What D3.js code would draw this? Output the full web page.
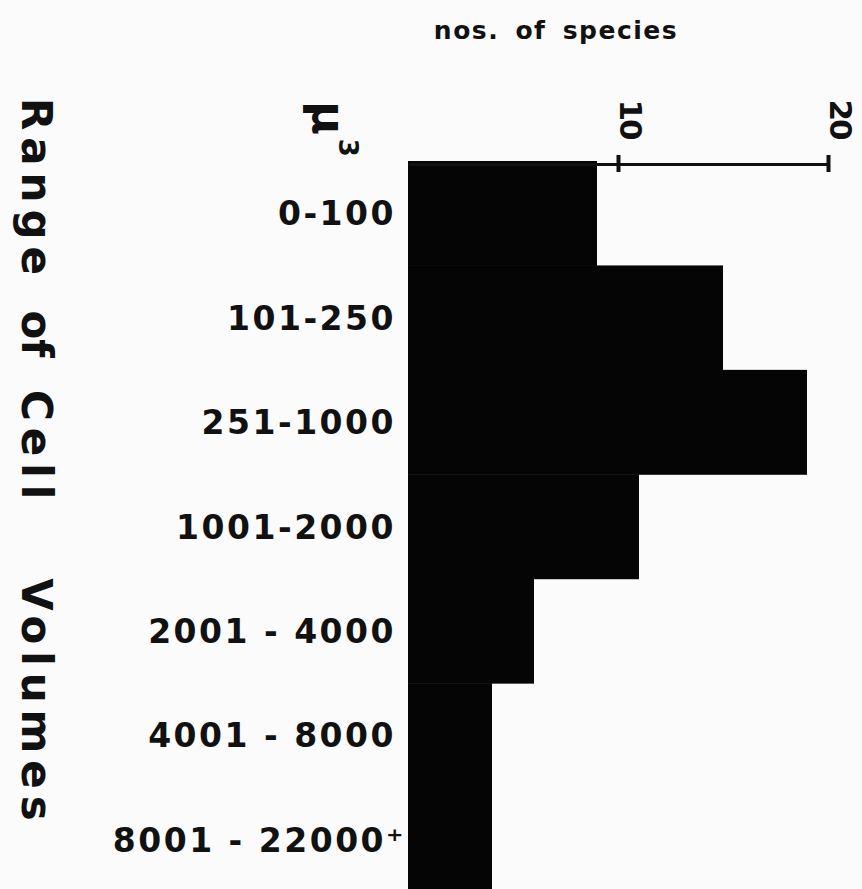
<!DOCTYPE html>
<html>
<head>
<meta charset="utf-8">
<script src="https://cdn.jsdelivr.net/npm/d3@7"></script>
<style>
  html, body { margin: 0; padding: 0; background: #fbfbfb; }
  svg { display: block; }
  text { font-family: "DejaVu Sans", sans-serif; fill: #111; }
</style>
</head>
<body>
<svg id="chart" width="862" height="889"></svg>
<script>
// ---- data ----
const categories = ["0-100", "101-250", "251-1000", "1001-2000", "2001 - 4000", "4001 - 8000", "8001 - 22000+"];
const speciesCounts = [9, 15, 19, 11, 6, 4, 4];
const tickValues = [10, 20];
const xTitle = "nos. of species";
const yTitleWords = ["Range", "of", "Cell", "Volumes"];
const unitBase = "μ";
const unitExp = "3";

// ---- layout ----
const W = 862, H = 889;
const svg = d3.select("#chart");
svg.append("rect").attr("width", W).attr("height", H).attr("fill", "#fbfbfb");

const x = d3.scaleLinear().domain([0, 20]).range([408, 828]);
const y = d3.scaleBand().domain(categories).range([161, 892]).padding(0);

const rows = categories.map((c, i) => ({ cat: c, v: speciesCounts[i] }));

// bars
svg.append("g").selectAll("rect").data(rows).join("rect")
  .attr("x", x(0))
  .attr("y", d => y(d.cat))
  .attr("width", d => x(d.v) - x(0))
  .attr("height", y.bandwidth() + 0.5)
  .attr("fill", "#050505");

// top axis
const axis = d3.axisTop(x).tickValues(tickValues).tickSizeOuter(0).tickFormat(d3.format("d"));
const ag = svg.append("g").attr("transform", "translate(0,164)").call(axis);
ag.select(".domain").attr("stroke", "#111").attr("stroke-width", 3);
ag.selectAll(".tick line").attr("y1", -9).attr("y2", 8).attr("stroke", "#111").attr("stroke-width", 4);
ag.selectAll(".tick text")
  .attr("x", 0).attr("y", 0).attr("dy", 0)
  .attr("text-anchor", "middle")
  .attr("transform", "translate(1,-45) rotate(90)")
  .style("font-family", "DejaVu Sans, sans-serif")
  .style("font-size", "31px")
  .style("font-weight", "bold")
  .style("letter-spacing", "-2px")
  .attr("fill", "#111");

// category labels
const lab = svg.append("g").selectAll("text").data(rows).join("text")
  .attr("x", d => d.cat.endsWith("+") ? 406 : 396)
  .attr("y", d => y(d.cat) + y.bandwidth() / 2 + 12)
  .attr("text-anchor", "end")
  .style("font-size", "33px")
  .style("font-weight", "bold")
  .style("letter-spacing", "2.5px");
lab.each(function(d) {
  const t = d3.select(this);
  if (d.cat.endsWith("+")) {
    t.text(d.cat.slice(0, -1) + "⁺");
  } else {
    t.text(d.cat);
  }
});

// x title
svg.append("text")
  .attr("x", 556).attr("y", 39)
  .attr("text-anchor", "middle")
  .style("font-size", "25px")
  .style("font-weight", "bold")
  .style("letter-spacing", "1.5px")
  .style("word-spacing", "6px")
  .text(xTitle);

// unit label (mu cubed), rotated
const ut = svg.append("text")
  .attr("transform", "translate(313,101) rotate(90)")
  .style("font-size", "46px")
  .style("font-weight", "bold");
ut.append("tspan").text(unitBase);
ut.append("tspan").text(unitExp).style("font-size", "26px").attr("dy", -26).attr("dx", 4);

// y title, rotated words
const wordCenters = [190, 334, 448, 703];
svg.append("g").selectAll("text").data(yTitleWords).join("text")
  .attr("transform", (d, i) => `translate(22,${wordCenters[i]}) rotate(90)`)
  .attr("text-anchor", "middle")
  .style("font-size", "42px")
  .style("font-weight", "bold")
  .style("letter-spacing", (d) => d === "of" ? "0px" : "7px")
  .text(d => d);
</script>
</body>
</html>
